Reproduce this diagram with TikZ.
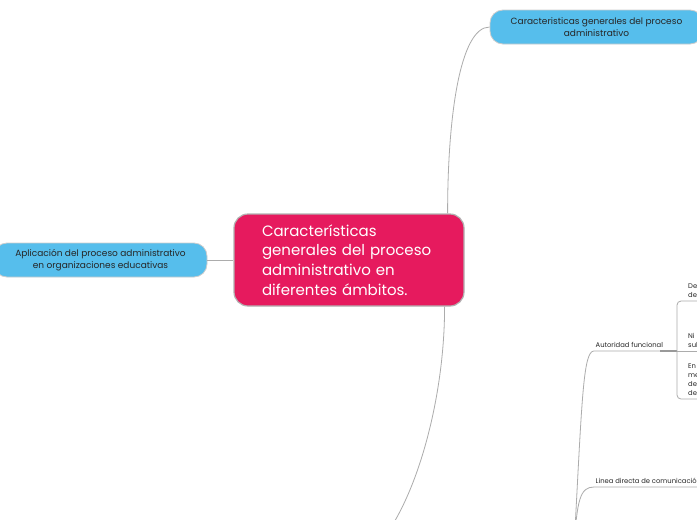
\documentclass[tikz,border=0pt]{standalone}
\usepackage{fontspec}
\setmainfont{Poppins}
\usetikzlibrary{positioning}
\definecolor{mapmagenta}{RGB}{230,26,94}
\definecolor{mapblue}{RGB}{86,190,236}
\definecolor{mapline}{RGB}{172,172,172}

\begin{document}
\begin{tikzpicture}[
        x=1pt, y=-1pt,
        % Node styles
        central/.style={rectangle, rounded corners=14pt, draw=black!30, line width=1.2pt, fill=mapmagenta, text=white, text width=174pt, inner xsep=28pt, minimum height=92pt, align=left, font=\fontsize{15}{19.8}\selectfont},
        topic/.style={rectangle, rounded corners=13pt, draw=black!20, line width=0.8pt, fill=mapblue, text=black!85, minimum width=213pt, minimum height=34pt, align=center, font=\fontsize{9}{12}\selectfont},
        subtopic/.style={inner xsep=1.5pt, inner ysep=3.5pt, font=\fontsize{6.8}{9}\selectfont, text=black!85},
        leaf/.style={subtopic, align=left, text width=16pt, inner xsep=1pt},
        % Connector styles
        branch/.style={draw=mapline, line width=0.8pt},
        stub/.style={draw=black!40, line width=2pt}
    ]

    % Frame of the visible area
    \fill[white] (0,0) rectangle (697,520);
    \useasboundingbox (0,0) rectangle (697,520);
    \clip (0,0) rectangle (697,520);

    % Central topic
    \node[central] (ambitos) at (349,260) {Características\\generales del proceso\\administrativo en\\diferentes ámbitos.};

    % Main topics
    \node[topic] (caract) at (596.5,27) {Caracteristicas generales del proceso\\administrativo};
    \node[topic, left=26pt of ambitos] (aplic) {Aplicación del proceso administrativo\\en organizaciones educativas};

    % Branches of the central topic
    \draw[branch] (aplic.east) -- (ambitos.west);
    \draw[branch] ([xshift=-17pt]ambitos.north east) .. controls +(0,-95) and +(-30,0) .. (caract.west);
    \coordinate (lowtopic) at (360,560);
    \draw[branch] ([xshift=-20pt]ambitos.south east) .. controls +(0,110) and (405,535) .. (lowtopic);

    % Lower right subtopics
    \coordinate (hub) at (574,548);
    \node[subtopic, anchor=south west] (autoridad) at (594,351) {Autoridad funcional};
    \node[subtopic, anchor=south west] (linea) at (594,487) {Linea directa de comunicación};
    \coordinate (bus) at (677,351);

    \draw[branch] (hub) .. controls (582,400) and (583,351) .. (autoridad.south west) -- (bus);
    \draw[stub] ([xshift=-17pt]bus) -- (bus);
    \draw[branch] (hub) .. controls (577,500) and (580,487) .. (linea.south west) -- ([xshift=10pt]linea.south east);

    % Children of Autoridad funcional
    \node[leaf, anchor=south west] (deleg) at (687,301) {De\\de};
    \node[leaf, anchor=south west] (nivel) at (687,351) {Ni\\sul};
    \node[leaf, anchor=south west] (ente) at (687,399) {En\\me\\de\\de};
    \draw[branch, rounded corners=4pt] (deleg.south east) -| (bus) |- (ente.south east);
    \draw[branch] (bus) -- (nivel.south east);

\end{tikzpicture}
\end{document}
